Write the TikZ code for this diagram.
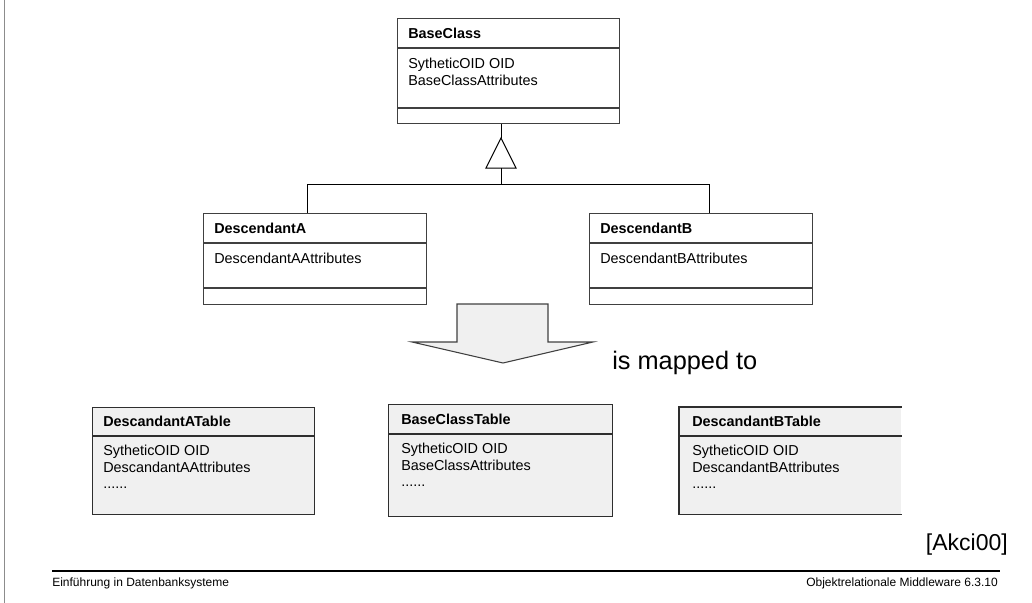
\documentclass[tikz,border=0pt]{standalone}
\usepackage{fontspec}
\setmainfont{Liberation Sans}
\usetikzlibrary{calc}
\definecolor{boxline}{HTML}{404040}
\definecolor{tablefill}{HTML}{F0F0F0}
\definecolor{tableline}{HTML}{2E2E2E}
\definecolor{leftbar}{HTML}{8C8C8C}
\begin{document}
\begin{tikzpicture}[x=0.75pt,y=-0.75pt,
  classbox/.style={draw=boxline, line width=0.8pt, fill=white, anchor=north west, inner sep=0pt},
  tablebox/.style={draw=tableline, line width=0.9pt, fill=tablefill, anchor=north west, inner sep=0pt},
  divider/.style={draw=boxline, line width=0.8pt},
  tdivider/.style={draw=tableline, line width=0.9pt},
  conn/.style={draw=black, line width=0.75pt},
  txt/.style={anchor=base west, inner sep=0pt, font=\fontsize{10.8}{13}\selectfont},
  ttl/.style={anchor=base west, inner sep=0pt, font=\bfseries\fontsize{10.8}{13}\selectfont},
  foot/.style={inner sep=0pt, font=\fontsize{9}{11}\selectfont}]
\useasboundingbox (0,0) rectangle (1032,603);

% left bar
\draw[leftbar, line width=1.2pt] (4.5,0) -- (4.5,603);

% BaseClass
\node[classbox, minimum width=166.5pt, minimum height=78.75pt] (bc) at (397,18) {};
\draw[divider] ($(bc.north west)+(0,30)$) -- ($(bc.north east)+(0,30)$);
\draw[divider] ($(bc.north west)+(0,90)$) -- ($(bc.north east)+(0,90)$);
\node[ttl] (bct) at (408,38) {BaseClass};
\node[txt] (bca1) at (408,68) {SytheticOID OID};
\node[txt] (bca2) at (408,85) {BaseClassAttributes};

% DescendantA
\node[classbox, minimum width=167.25pt, minimum height=68.25pt] (da) at (203,213) {};
\draw[divider] ($(da.north west)+(0,30)$) -- ($(da.north east)+(0,30)$);
\draw[divider] ($(da.north west)+(0,75)$) -- ($(da.north east)+(0,75)$);
\node[ttl] (dat) at (214,233) {DescendantA};
\node[txt] (daa) at (214,263) {DescendantAAttributes};

% DescendantB
\node[classbox, minimum width=167.25pt, minimum height=68.25pt] (db) at (589,213) {};
\draw[divider] ($(db.north west)+(0,30)$) -- ($(db.north east)+(0,30)$);
\draw[divider] ($(db.north west)+(0,75)$) -- ($(db.north east)+(0,75)$);
\node[ttl] (dbt) at (600,233) {DescendantB};
\node[txt] (dba) at (600,263) {DescendantBAttributes};

% generalization
\coordinate (apex) at (501,138);
\coordinate (tribase) at (501,168);
\coordinate (junc) at (501,184);
\coordinate (ja) at (307,184);
\coordinate (jb) at (709,184);
\draw[conn] (bc.south -| apex) -- (apex);
\draw[conn, fill=white] (apex) -- (516,168) -- (486,168) -- cycle;
\draw[conn] (tribase) -- (junc);
\draw[conn] (ja) -- (jb);
\draw[conn] (ja) -- (ja |- da.north);
\draw[conn] (jb) -- (jb |- db.north);

% block arrow
\draw[draw=boxline, line width=0.8pt, fill=tablefill] (457,304) -- (548,304) -- (548,342) -- (593,342) -- (503,363) -- (412,342) -- (457,342) -- cycle;
\node[anchor=west, inner sep=0pt, font=\fontsize{19}{22}\selectfont] (map) at (612,363) {is mapped to};

% tables
\node[tablebox, minimum width=166.5pt, minimum height=80.25pt] (ta) at (92,407) {};
\draw[tdivider] ($(ta.north west)+(0,29)$) -- ($(ta.north east)+(0,29)$);
\node[ttl] (tat) at (103,426) {DescandantATable};
\node[txt] (ta1) at (103,455) {SytheticOID OID};
\node[txt] (ta2) at (103,472) {DescandantAAttributes};
\node[txt] (ta3) at (103,488) {......};

\node[tablebox, minimum width=168pt, minimum height=84pt] (tb) at (388,404) {};
\draw[tdivider] ($(tb.north west)+(0,30)$) -- ($(tb.north east)+(0,30)$);
\node[ttl] (tbt) at (401,424) {BaseClassTable};
\node[txt] (tb1) at (401,453) {SytheticOID OID};
\node[txt] (tb2) at (401,470) {BaseClassAttributes};
\node[txt] (tb3) at (401,486) {......};

\node[fill=tablefill, anchor=north west, inner sep=0pt, minimum width=166.5pt, minimum height=80.25pt] (tc) at (679,407) {};
\draw[tdivider] (tc.north east) -- (tc.north west) -- (tc.south west) -- (tc.south east);
\draw[tdivider] ($(tc.north west)+(0,29)$) -- ($(tc.north east)+(0,29)$);
\node[ttl] (tct) at (692,426) {DescandantBTable};
\node[txt] (tc1) at (692,455) {SytheticOID OID};
\node[txt] (tc2) at (692,472) {DescandantBAttributes};
\node[txt] (tc3) at (692,488) {......};

% reference
\node[anchor=east, inner sep=0pt, font=\fontsize{17.25}{20}\selectfont] (ref) at (1008,545) {[Akci00]};

% footer
\coordinate (fl) at (52,571);
\coordinate (fr) at (1000,571);
\draw[black, line width=0.8pt] (fl) -- (fr);
\node[foot, anchor=west] (f1) at (52,583) {Einführung in Datenbanksysteme};
\node[foot, anchor=east] (f2) at (998,583) {Objektrelationale Middleware 6.3.10};
\end{tikzpicture}
\end{document}
